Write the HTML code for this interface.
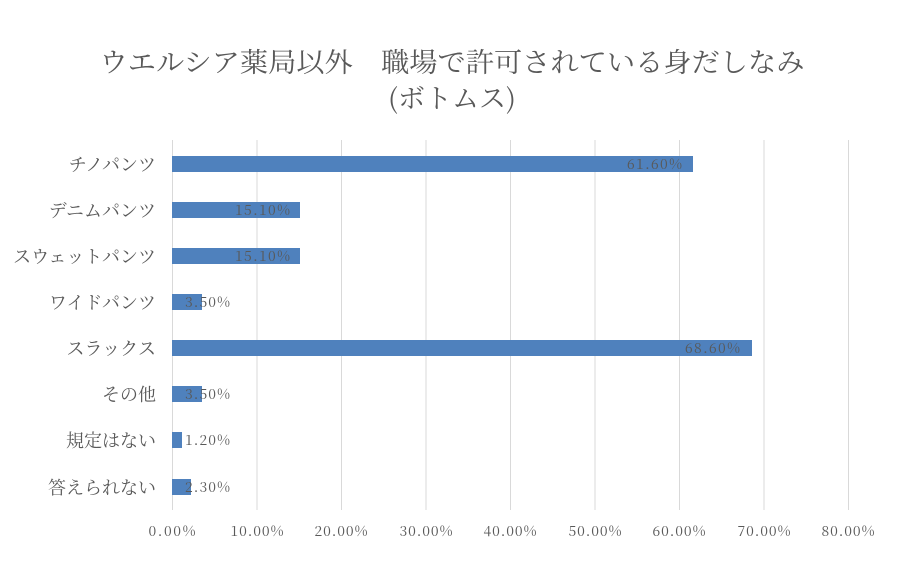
<!DOCTYPE html>
<html><head><meta charset="utf-8"><style>
body{margin:0;background:#fff;}
svg text{font-family:"Noto Serif CJK JP","Noto Serif CJK SC",serif;fill:#595959;}
</style></head><body>
<svg width="900" height="580" xmlns="http://www.w3.org/2000/svg">
<rect width="900" height="580" fill="#fff"/>
<text x="452" y="72" font-size="27" text-anchor="middle" textLength="705" lengthAdjust="spacingAndGlyphs">ウエルシア薬局以外　職場で許可されている身だしなみ</text>
<text x="452" y="108" font-size="27" text-anchor="middle">(ボトムス)</text>
<g stroke="#d9d9d9" stroke-width="1">
<line x1="172.5" y1="140" x2="172.5" y2="510"/>
<line x1="257" y1="140" x2="257" y2="510"/>
<line x1="341.5" y1="140" x2="341.5" y2="510"/>
<line x1="426" y1="140" x2="426" y2="510"/>
<line x1="510.5" y1="140" x2="510.5" y2="510"/>
<line x1="595" y1="140" x2="595" y2="510"/>
<line x1="679.5" y1="140" x2="679.5" y2="510"/>
<line x1="764" y1="140" x2="764" y2="510"/>
<line x1="848.5" y1="140" x2="848.5" y2="510"/>
</g>
<g fill="#4f81bd">
<rect x="172" y="156" width="521" height="16"/>
<rect x="172" y="202" width="128" height="16"/>
<rect x="172" y="248" width="128" height="16"/>
<rect x="172" y="294" width="30" height="16"/>
<rect x="172" y="340" width="580" height="16"/>
<rect x="172" y="386" width="30" height="16"/>
<rect x="172" y="432" width="10" height="16"/>
<rect x="172" y="479" width="19" height="16"/>
</g>
<g font-size="18" text-anchor="end">
<text x="156" y="171">チノパンツ</text>
<text x="156" y="217">デニムパンツ</text>
<text x="156" y="263">スウェットパンツ</text>
<text x="156" y="309">ワイドパンツ</text>
<text x="156" y="355">スラックス</text>
<text x="156" y="401">その他</text>
<text x="156" y="447">規定はない</text>
<text x="156" y="494">答えられない</text>
</g>
<g font-size="14" fill="#404040" lengthAdjust="spacingAndGlyphs">
<text x="627" y="169" textLength="55">61.60%</text>
<text x="235" y="215" textLength="55">15.10%</text>
<text x="235" y="261" textLength="55">15.10%</text>
<text x="185" y="307" textLength="45">3.50%</text>
<text x="685" y="353" textLength="55">68.60%</text>
<text x="185" y="399" textLength="45">3.50%</text>
<text x="185" y="445" textLength="45">1.20%</text>
<text x="185" y="492" textLength="45">2.30%</text>
</g>
<g font-size="14" text-anchor="middle">
<text x="172" y="536" textLength="47">0.00%</text>
<text x="257" y="536" textLength="53">10.00%</text>
<text x="341" y="536" textLength="53">20.00%</text>
<text x="426" y="536" textLength="53">30.00%</text>
<text x="510" y="536" textLength="53">40.00%</text>
<text x="595" y="536" textLength="53">50.00%</text>
<text x="679" y="536" textLength="53">60.00%</text>
<text x="764" y="536" textLength="53">70.00%</text>
<text x="848" y="536" textLength="53">80.00%</text>
</g>
</svg>
</body></html>
